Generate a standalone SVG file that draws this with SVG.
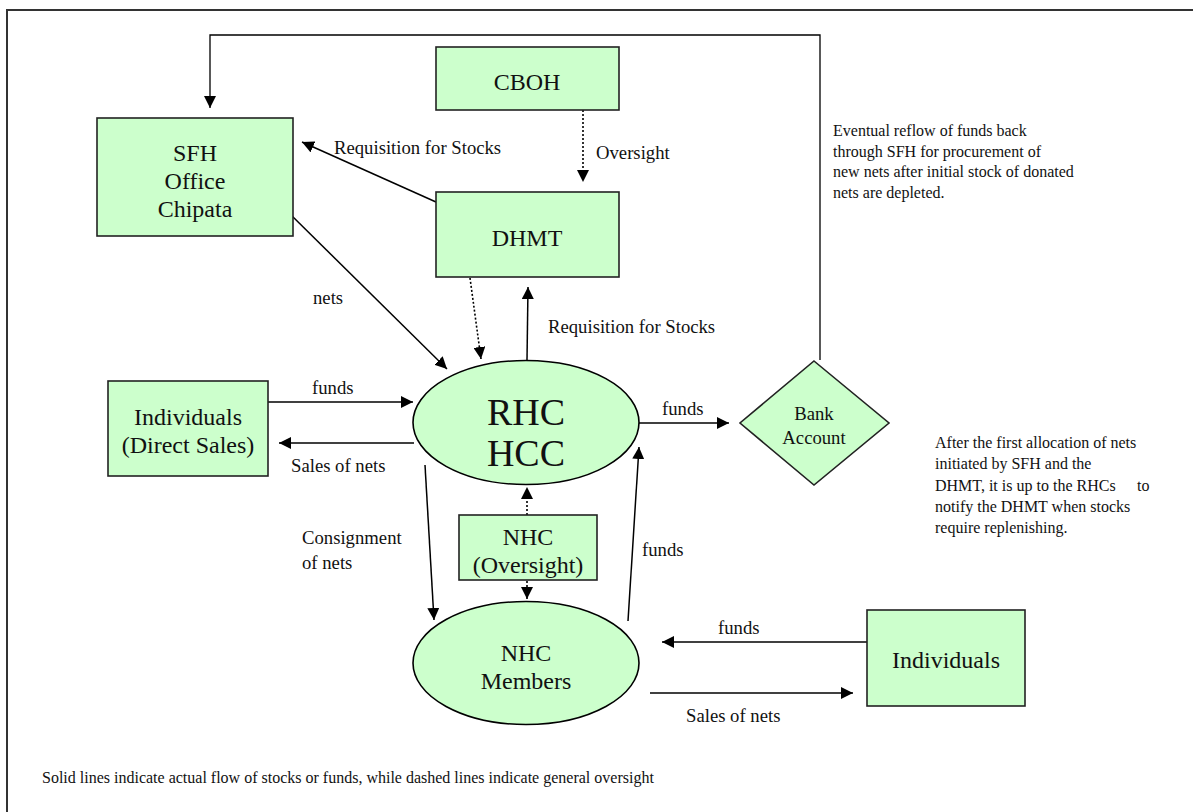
<svg xmlns="http://www.w3.org/2000/svg" width="1193" height="812" viewBox="0 0 1193 812">
<style>
text{font-family:"Liberation Serif","Times New Roman",serif;fill:#111}
.box{fill:#ccffcc;stroke:#222;stroke-width:1.6}
.ell{fill:#ccffcc;stroke:#000;stroke-width:1.6}
.t24{font-size:24px;text-anchor:middle}
.t38{font-size:38px;text-anchor:middle}
.t19{font-size:18.7px}
.c19{font-size:18.7px;text-anchor:middle}
.t16{font-size:16px}
.sol{fill:none;stroke:#000;stroke-width:1.5;marker-end:url(#ah)}
.dsh{fill:none;stroke:#000;stroke-width:1.6;stroke-dasharray:2,2;marker-end:url(#ah)}
</style>
<defs>
<marker id="ah" markerUnits="userSpaceOnUse" markerWidth="13" markerHeight="12" refX="12" refY="6" orient="auto">
<path d="M0,0 L12,6 L0,12 z" fill="#000"/>
</marker>
</defs>
<rect width="1193" height="812" fill="#fff"/>
<path d="M7,812 V10 H1193" fill="none" stroke="#333" stroke-width="2"/>

<g id="connectors">
<line class="sol" x1="436" y1="202" x2="302" y2="142"/>
<line class="dsh" x1="583" y1="110" x2="583" y2="182"/>
<line class="sol" x1="289" y1="213" x2="447" y2="369"/>
<line class="dsh" x1="470" y1="278" x2="481" y2="359"/>
<line class="sol" x1="527" y1="360" x2="528" y2="287"/>
<line class="sol" x1="266" y1="402" x2="413" y2="402"/>
<line class="sol" x1="414" y1="443" x2="279" y2="443"/>
<line class="sol" x1="639" y1="423" x2="729" y2="423"/>
<polyline class="sol" style="stroke-width:1.3" points="820,360 820,35 210,35 210,108"/>
<line class="sol" x1="425" y1="465" x2="434" y2="620"/>
<line class="dsh" x1="527" y1="515" x2="527" y2="487"/>
<line class="dsh" x1="527" y1="581" x2="527" y2="599"/>
<line class="sol" x1="628" y1="621" x2="639" y2="447"/>
<line class="sol" x1="867" y1="642" x2="662" y2="642"/>
<line class="sol" x1="650" y1="693" x2="853" y2="693"/>
</g>

<g id="labels">
<text class="t19" x="334" y="154">Requisition for Stocks</text>
<text class="t19" x="596" y="159">Oversight</text>
<text class="t19" x="313" y="304">nets</text>
<text class="t19" x="548" y="333">Requisition for Stocks</text>
<text class="t19" x="312" y="394">funds</text>
<text class="t19" x="291" y="472">Sales of nets</text>
<text class="t19" x="662" y="415">funds</text>
<text class="t19" x="302" y="544">Consignment</text>
<text class="t19" x="302" y="569">of nets</text>
<text class="t19" x="642" y="556">funds</text>
<text class="t19" x="718" y="634">funds</text>
<text class="t19" x="686" y="722">Sales of nets</text>
</g>

<g id="cboh">
<rect class="box" x="436" y="47" width="183" height="63"/>
<text class="t24" x="527" y="90">CBOH</text>
</g>
<g id="dhmt">
<rect class="box" x="436" y="192" width="183" height="85"/>
<text class="t24" x="527" y="246">DHMT</text>
</g>
<g id="sfh">
<rect class="box" x="97" y="118" width="196" height="118"/>
<text class="t24" x="195" y="161">SFH</text>
<text class="t24" x="195" y="189">Office</text>
<text class="t24" x="195" y="217">Chipata</text>
</g>
<g id="individuals-direct">
<rect class="box" x="108" y="381" width="160" height="95"/>
<text class="t24" x="188" y="425">Individuals</text>
<text class="t24" x="188" y="453">(Direct Sales)</text>
</g>
<g id="rhc">
<ellipse class="ell" cx="526" cy="422.5" rx="113" ry="62"/>
<text class="t38" x="526" y="425">RHC</text>
<text class="t38" x="526" y="466">HCC</text>
</g>
<g id="bank">
<polygon class="box" points="814,361 889,423 814,485 740,423"/>
<text class="c19" x="814" y="420">Bank</text>
<text class="c19" x="814" y="444">Account</text>
</g>
<g id="nhc-oversight">
<rect class="box" x="459" y="515" width="138" height="65"/>
<text class="t24" x="528" y="545">NHC</text>
<text class="t24" x="528" y="573">(Oversight)</text>
</g>
<g id="nhc-members">
<ellipse class="ell" cx="526" cy="663" rx="113" ry="61.5"/>
<text class="t24" x="526" y="661">NHC</text>
<text class="t24" x="526" y="689">Members</text>
</g>
<g id="individuals">
<rect class="box" x="867" y="610" width="158" height="96"/>
<text class="t24" x="946" y="668">Individuals</text>
</g>

<g id="notes">
<text class="t16" x="833" y="136">Eventual  reflow of funds back</text>
<text class="t16" x="833" y="157">through SFH for procurement of</text>
<text class="t16" x="833" y="177">new nets after initial stock of donated</text>
<text class="t16" x="833" y="198">nets are depleted.</text>
<text class="t16" x="935" y="448">After the first allocation of nets</text>
<text class="t16" x="935" y="469">initiated by SFH and the</text>
<text class="t16" x="935" y="491">DHMT, it is up to the  RHCs<tspan x="1137">to</tspan></text>
<text class="t16" x="935" y="512">notify the DHMT when stocks</text>
<text class="t16" x="935" y="533">require replenishing.</text>
<text class="t16" x="42" y="783">Solid lines indicate actual flow of stocks or funds, while dashed lines indicate general oversight</text>
</g>
</svg>
